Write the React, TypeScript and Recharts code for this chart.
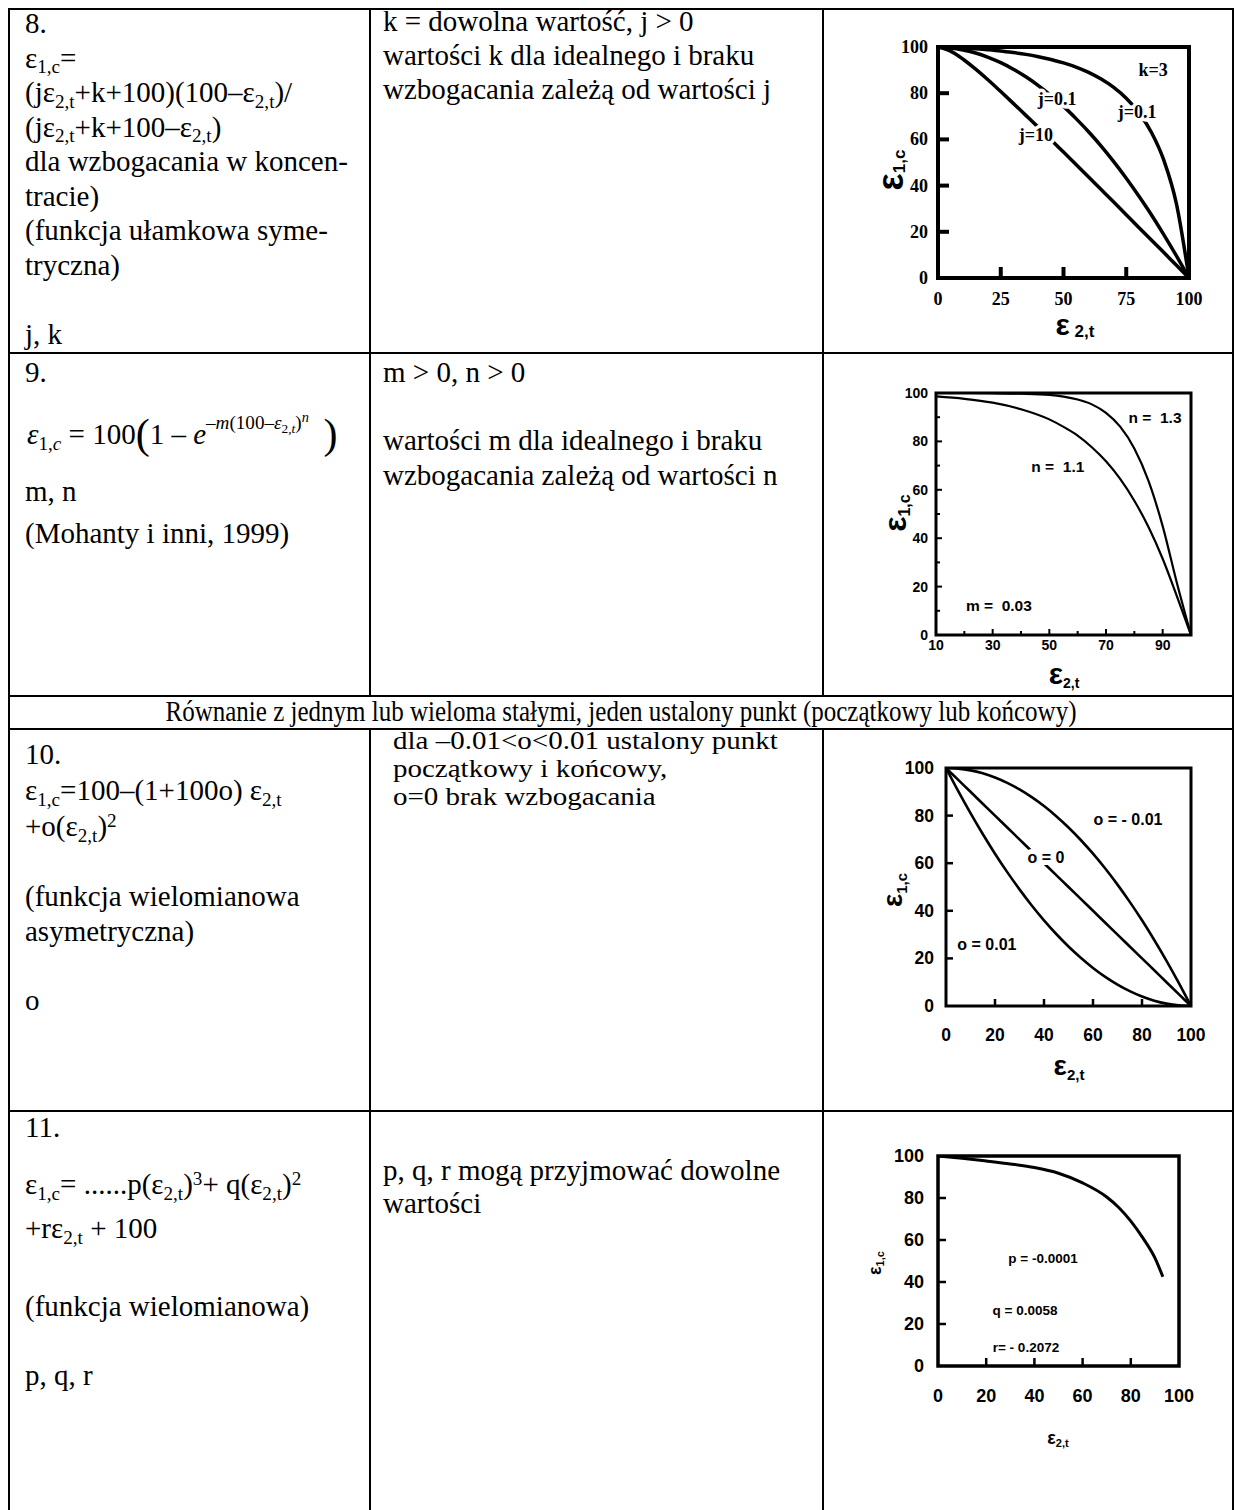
import React from "react";
import {
  ComposedChart,
  Line,
  XAxis,
  YAxis,
  ReferenceArea,
  Scatter,
} from "recharts";

// ---------- data ----------
// Chart 8: fractional symmetric function
const c8X = [0, 5, 10, 15, 20, 25, 30, 35, 40, 45, 50, 55, 60, 65, 70, 75, 80, 85, 90, 95, 100];
const c8TopJ01 = [100, 99.8, 99.6, 99.2, 98.8, 98.3, 97.6, 96.8, 95.8, 94.6, 93.1, 91.3, 89.0, 86.1, 82.5, 77.8, 71.6, 63.1, 50.9, 32.1, 0];
const c8MidJ01 = [100, 99.6, 98.7, 97.4, 95.5, 93.2, 90.4, 87.1, 83.3, 79.0, 74.3, 69.0, 63.3, 57.1, 50.4, 43.2, 35.5, 27.4, 18.7, 9.6, 0];
const c8J10 = [100, 98.2, 94.7, 90.4, 85.7, 80.7, 75.6, 70.4, 65.2, 59.9, 54.5, 49.1, 43.7, 38.3, 32.9, 27.4, 21.9, 16.5, 11.0, 5.5, 0];
const c8XTicks = [0, 25, 50, 75, 100];
const c8YTicks = [0, 20, 40, 60, 80, 100];
const c8Notes = [
  { x: 85.7, y: 90, text: "k=3" },
  { x: 47.5, y: 77.5, text: "j=0.1" },
  { x: 79.3, y: 72, text: "j=0.1" },
  { x: 39, y: 62, text: "j=10" },
];

// Chart 9: Mohanty et al.
const c9X = [10, 20, 30, 40, 50, 55, 60, 65, 70, 75, 80, 85, 90, 95, 100];
const c9N11 = [98.6, 97.6, 96.0, 93.3, 89.1, 86.0, 82.4, 77.6, 71.8, 64.5, 55.5, 44.6, 31.5, 16.1, 0];
const c9N13 = [100, 100, 99.9, 99.7, 99.2, 98.5, 97.3, 95.3, 91.8, 86.1, 77.1, 63.7, 45.0, 21.6, 0];
const c9XTicks = [10, 20, 30, 40, 50, 60, 70, 80, 90, 100];
const c9XLabels = [10, 30, 50, 70, 90];
const c9YTicks = [0, 10, 20, 30, 40, 50, 60, 70, 80, 90, 100];
const c9YLabels = [0, 20, 40, 60, 80, 100];
const c9Notes = [
  { x: 87.3, y: 90, text: "n =  1.3" },
  { x: 53, y: 69.8, text: "n =  1.1" },
  { x: 32.2, y: 12, text: "m =  0.03" },
];

// Chart 10: asymmetric polynomial
const c10X = [0, 5, 10, 15, 20, 25, 30, 35, 40, 45, 50, 55, 60, 65, 70, 75, 80, 85, 90, 95, 100];
const c10Neg = [100, 99.75, 99, 97.75, 96, 93.75, 91, 87.75, 84, 79.75, 75, 69.75, 64, 57.75, 51, 43.75, 36, 27.75, 19, 9.75, 0];
const c10Zero = [100, 95, 90, 85, 80, 75, 70, 65, 60, 55, 50, 45, 40, 35, 30, 25, 20, 15, 10, 5, 0];
const c10Pos = [100, 90.25, 81, 72.25, 64, 56.25, 49, 42.25, 36, 30.25, 25, 20.25, 16, 12.25, 9, 6.25, 4, 2.25, 1, 0.25, 0];
const c10XTicks = [0, 20, 40, 60, 80, 100];
const c10YTicks = [0, 20, 40, 60, 80, 100];
const c10Notes = [
  { x: 74.3, y: 78.2, text: "o = - 0.01" },
  { x: 40.8, y: 62.6, text: "o = 0" },
  { x: 16.7, y: 26, text: "o = 0.01" },
];

// Chart 11: polynomial
const c11X = [0, 10, 20, 30, 40, 50, 60, 70, 75, 80, 85, 90, 93.3];
const c11Y = [100, 98.9, 97.6, 96.2, 94.5, 91.8, 87.2, 80.5, 75.5, 69.0, 61.0, 51.5, 42.5];
const c11XTicks = [0, 20, 40, 60, 80, 100];
const c11YTicks = [0, 20, 40, 60, 80, 100];
const c11Notes = [
  { x: 43.6, y: 51.4, text: "p = -0.0001" },
  { x: 36.1, y: 26.2, text: "q = 0.0058" },
  { x: 36.5, y: 8.6, text: "r= - 0.2072" },
];

// ---------- helpers ----------
const zip = (xs: number[], ys: number[]) => xs.map((x, i) => ({ x, y: ys[i] }));

const SERIF = "'Liberation Serif', 'Times New Roman', serif";
const SANS = "'Liberation Sans', Arial, sans-serif";

type TickOpts = {
  side: "x" | "y";
  margin: number;
  len: number;
  minorLen?: number;
  labels?: number[];
  family: string;
  size: number;
  sw: number;
  domain: [number, number];
};

const makeTick = (o: TickOpts) => (props: any) => {
  const { x, y, payload } = props;
  const v = payload.value;
  const isLabel = o.labels ? o.labels.includes(v) : true;
  const atEnd = v === o.domain[0] || v === o.domain[1];
  const len = isLabel ? o.len : o.minorLen ?? o.len;
  if (o.side === "x") {
    const ay = y - o.margin;
    return (
      <g>
        {!atEnd && <line x1={x} x2={x} y1={ay} y2={ay - len} stroke="#000" strokeWidth={o.sw} />}
        {isLabel && (
          <text x={x} y={y} textAnchor="middle" dominantBaseline="hanging" fontFamily={o.family} fontWeight="bold" fontSize={o.size} fill="#000">
            {v}
          </text>
        )}
      </g>
    );
  }
  const ax = x + o.margin;
  return (
    <g>
      {!atEnd && <line x1={ax} x2={ax + len} y1={y} y2={y} stroke="#000" strokeWidth={o.sw} />}
      {isLabel && (
        <text x={x} y={y} textAnchor="end" dominantBaseline="central" fontFamily={o.family} fontWeight="bold" fontSize={o.size} fill="#000">
          {v}
        </text>
      )}
    </g>
  );
};

const noteShape = (family: string, size: number, halo: number) => (props: any) => {
  const { cx, cy, payload } = props;
  return (
    <text
      x={cx}
      y={cy}
      textAnchor="middle"
      dominantBaseline="central"
      fontFamily={family}
      fontWeight="bold"
      fontSize={size}
      fill="#000"
      stroke="#fff"
      strokeWidth={halo}
      paintOrder="stroke"
      style={{ whiteSpace: "pre" }}
    >
      {payload.text}
    </text>
  );
};

type Series = { data: { x: number; y: number }[]; width: number };

type PlotProps = {
  left: number;
  top: number;
  pw: number;
  ph: number;
  xDomain: [number, number];
  xTicks: number[];
  yTicks: number[];
  xLabels?: number[];
  yLabels?: number[];
  series: Series[];
  notes: { x: number; y: number; text: string }[];
  family: string;
  tickSize: number;
  noteSize: number;
  halo: number;
  frameW: number;
  tickW: number;
  tickLen: number;
  minorLen?: number;
  xMargin: number;
  yMargin: number;
};

const PAD_L = 80;
const PAD_T = 20;
const PAD_R = 40;
const PAD_B = 60;

const Plot = (p: PlotProps) => {
  const W = p.pw + PAD_L + PAD_R;
  const H = p.ph + PAD_T + PAD_B;
  return (
    <div style={{ position: "absolute", left: p.left - PAD_L, top: p.top - PAD_T, width: W, height: H }}>
      <ComposedChart width={W} height={H} margin={{ top: PAD_T, right: PAD_R, left: 0, bottom: 0 }}>
        <XAxis
          type="number"
          dataKey="x"
          domain={p.xDomain}
          ticks={p.xTicks}
          allowDataOverflow
          interval={0}
          height={PAD_B}
          axisLine={false}
          tickLine={false}
          tickSize={0}
          tickMargin={p.xMargin}
          tick={makeTick({ side: "x", margin: p.xMargin, len: p.tickLen, minorLen: p.minorLen, labels: p.xLabels, family: p.family, size: p.tickSize, sw: p.tickW, domain: p.xDomain })}
        />
        <YAxis
          type="number"
          dataKey="y"
          domain={[0, 100]}
          ticks={p.yTicks}
          allowDataOverflow
          interval={0}
          width={PAD_L}
          axisLine={false}
          tickLine={false}
          tickSize={0}
          tickMargin={p.yMargin}
          tick={makeTick({ side: "y", margin: p.yMargin, len: p.tickLen, minorLen: p.minorLen, labels: p.yLabels, family: p.family, size: p.tickSize, sw: p.tickW, domain: [0, 100] })}
        />
        {p.series.map((s, i) => (
          <Line
            key={i}
            data={s.data}
            dataKey="y"
            type="monotone"
            stroke="#000"
            strokeWidth={s.width}
            dot={false}
            activeDot={false}
            isAnimationActive={false}
            strokeLinejoin="round"
          />
        ))}
        <Scatter data={p.notes} dataKey="y" shape={noteShape(p.family, p.noteSize, p.halo)} isAnimationActive={false} />
        <ReferenceArea
          x1={p.xDomain[0]}
          x2={p.xDomain[1]}
          y1={0}
          y2={100}
          fill="none"
          stroke="#000"
          strokeWidth={p.frameW}
          ifOverflow="visible"
        />
      </ComposedChart>
    </div>
  );
};

// ---------- table text helpers ----------
const Sb = ({ children }: { children: React.ReactNode }) => (
  <span style={{ fontSize: "0.66em", position: "relative", top: "0.28em" }}>{children}</span>
);
const Sp = ({ children }: { children: React.ReactNode }) => (
  <span style={{ fontSize: "0.66em", position: "relative", top: "-0.5em" }}>{children}</span>
);

const FS = 29;
// one line of table text, positioned by its baseline
const T = ({
  x,
  base,
  children,
  lh = 32,
  size = FS,
  sy,
}: {
  x: number;
  base: number;
  children: React.ReactNode;
  lh?: number;
  size?: number;
  sy?: number;
}) => {
  const off = lh / 2 + 0.3375 * size;
  return (
    <div
      style={{
        position: "absolute",
        left: x,
        top: base - off,
        fontFamily: SERIF,
        fontSize: size,
        lineHeight: `${lh}px`,
        height: lh,
        whiteSpace: "pre",
        color: "#000",
        transform: sy ? `scaleY(${sy})` : undefined,
        transformOrigin: sy ? `0 ${off}px` : undefined,
      }}
    >
      {children}
    </div>
  );
};

const HL = ({ y, x1 = 9, x2 = 1233 }: { y: number; x1?: number; x2?: number }) => (
  <div style={{ position: "absolute", left: x1 - 1, top: y - 1, width: x2 - x1 + 2, height: 2, background: "#000" }} />
);
const VL = ({ x, y1, y2 }: { x: number; y1: number; y2: number }) => (
  <div style={{ position: "absolute", left: x - 1, top: y1 - 1, width: 2, height: y2 - y1 + 1, background: "#000" }} />
);

const AxisTitle = ({
  x,
  y,
  rotate,
  big,
  small,
  family,
  bigSize,
  smallSize,
  gap = "",
  drop = 0.3,
}: {
  x: number;
  y: number;
  rotate?: boolean;
  big: string;
  small: string;
  family: string;
  bigSize: number;
  smallSize: number;
  gap?: string;
  drop?: number;
}) => (
  <svg style={{ position: "absolute", left: 0, top: 0, overflow: "visible" }} width={1} height={1}>
    <text
      x={x}
      y={y}
      textAnchor="middle"
      fontFamily={family}
      fontWeight="bold"
      fill="#000"
      transform={rotate ? `rotate(-90 ${x} ${y})` : undefined}
      style={{ whiteSpace: "pre" }}
    >
      <tspan fontSize={bigSize}>{big}</tspan>
      <tspan fontSize={smallSize} dy={smallSize * drop}>
        {gap}
        {small}
      </tspan>
    </text>
  </svg>
);

export default function App() {
  return (
    <div style={{ position: "absolute", left: 0, top: 0, width: 1236, height: 1510, background: "#fff", overflow: "hidden" }}>
      {/* table grid */}
      <HL y={9} />
      <HL y={353} />
      <HL y={696} />
      <HL y={729} />
      <HL y={1111} />
      <VL x={9} y1={9} y2={1510} />
      <VL x={1233} y1={9} y2={1510} />
      <VL x={370} y1={9} y2={696} />
      <VL x={823} y1={9} y2={696} />
      <VL x={370} y1={729} y2={1510} />
      <VL x={823} y1={729} y2={1510} />

      {/* row 8 */}
      <T x={25} base={33}>8.</T>
      <T x={25} base={67.5}>ε<Sb>1,c</Sb>=</T>
      <T x={25} base={102}>(jε<Sb>2,t</Sb>+k+100)(100–ε<Sb>2,t</Sb>)/</T>
      <T x={25} base={136.5}>(jε<Sb>2,t</Sb>+k+100–ε<Sb>2,t</Sb>)</T>
      <T x={25} base={171}>dla wzbogacania w koncen-</T>
      <T x={25} base={205.5}>tracie)</T>
      <T x={25} base={240}>(funkcja ułamkowa syme-</T>
      <T x={25} base={274.5}>tryczna)</T>
      <T x={25} base={343.5}>j, k</T>
      <T x={383} base={31}>k = dowolna wartość, j &gt; 0</T>
      <T x={383} base={65}>wartości k dla idealnego i braku</T>
      <T x={383} base={99}>wzbogacania zależą od wartości j</T>

      {/* row 9 */}
      <T x={25} base={382}>9.</T>
      <T x={27} base={440} lh={44}>
        <span style={{ fontStyle: "italic" }}>ε</span>
        <Sb>
          1,<i>c</i>
        </Sb>
        {" = 100"}
        <span style={{ fontSize: "1.45em", position: "relative", top: "0.08em" }}>(</span>
        {"1 – "}
        <i>e</i>
        <span style={{ fontSize: "0.66em", position: "relative", top: "-0.78em" }}>
          –<i>m</i>(100–<i>ε</i>
          <span style={{ fontSize: "0.7em", position: "relative", top: "0.3em" }}>
            2,<i>t</i>
          </span>
          )
          <span style={{ fontSize: "0.75em", position: "relative", top: "-0.5em" }}>
            <i>n</i>
          </span>
        </span>
        {"  "}
        <span style={{ fontSize: "1.45em", position: "relative", top: "0.08em" }}>)</span>
      </T>
      <T x={25} base={501}>m, n</T>
      <T x={25} base={543}>(Mohanty i inni, 1999)</T>
      <T x={383} base={382}>m &gt; 0, n &gt; 0</T>
      <T x={383} base={450}>wartości m dla idealnego i braku</T>
      <T x={383} base={484.5}>wzbogacania zależą od wartości n</T>

      {/* header row */}
      <div
        style={{
          position: "absolute",
          left: 9,
          width: 1224,
          top: 721 - 14 - 0.3375 * 25,
          height: 28,
          textAlign: "center",
          fontFamily: SERIF,
          fontSize: 25,
          lineHeight: "28px",
          whiteSpace: "pre",
          transform: "scaleY(1.15)",
          transformOrigin: `50% ${14 + 0.3375 * 25}px`,
        }}
      >
        Równanie z jednym lub wieloma stałymi, jeden ustalony punkt (początkowy lub końcowy)
      </div>

      {/* row 10 */}
      <T x={25} base={764}>10.</T>
      <T x={25} base={800}>
        ε<Sb>1,c</Sb>=100–(1+100o) ε<Sb>2,t</Sb>
      </T>
      <T x={25} base={836}>
        +o(ε<Sb>2,t</Sb>)<Sp>2</Sp>
      </T>
      <T x={25} base={906}>(funkcja wielomianowa</T>
      <T x={25} base={941}>asymetryczna)</T>
      <T x={25} base={1010}>o</T>
      <T x={393} base={749} lh={24} sy={0.85}>dla –0.01&lt;o&lt;0.01 ustalony punkt</T>
      <T x={393} base={777} lh={24} sy={0.85}>początkowy i końcowy,</T>
      <T x={393} base={805} lh={24} sy={0.85}>o=0 brak wzbogacania</T>

      {/* row 11 */}
      <T x={25} base={1137}>11.</T>
      <T x={25} base={1194}>
        ε<Sb>1,c</Sb>= ......p(ε<Sb>2,t</Sb>)<Sp>3</Sp>+ q(ε<Sb>2,t</Sb>)<Sp>2</Sp>
      </T>
      <T x={25} base={1238}>
        +rε<Sb>2,t</Sb> + 100
      </T>
      <T x={25} base={1316}>(funkcja wielomianowa)</T>
      <T x={25} base={1385}>p, q, r</T>
      <T x={383} base={1180}>p, q, r mogą przyjmować dowolne</T>
      <T x={383} base={1213}>wartości</T>

      {/* chart 8 */}
      <Plot
        left={938}
        top={47}
        pw={251}
        ph={231}
        xDomain={[0, 100]}
        xTicks={c8XTicks}
        yTicks={c8YTicks}
        series={[
          { data: zip(c8X, c8TopJ01), width: 3.5 },
          { data: zip(c8X, c8MidJ01), width: 3.5 },
          { data: zip(c8X, c8J10), width: 3.5 },
        ]}
        notes={c8Notes}
        family={SERIF}
        tickSize={18}
        noteSize={18}
        halo={7}
        frameW={4}
        tickW={4}
        tickLen={11}
        xMargin={14}
        yMargin={10}
      />
      <AxisTitle x={903} y={170} rotate big="ε" small="1,c" family={SANS} bigSize={36} smallSize={17} drop={0.1} />
      <AxisTitle x={1075} y={335} big="ε" small="2,t" gap=" " family={SANS} bigSize={30} smallSize={17} drop={0.1} />

      {/* chart 9 */}
      <Plot
        left={936}
        top={393}
        pw={255}
        ph={242}
        xDomain={[10, 100]}
        xTicks={c9XTicks}
        yTicks={c9YTicks}
        xLabels={c9XLabels}
        yLabels={c9YLabels}
        series={[
          { data: zip(c9X, c9N11), width: 2.2 },
          { data: zip(c9X, c9N13), width: 2.2 },
        ]}
        notes={c9Notes}
        family={SANS}
        tickSize={14}
        noteSize={15.5}
        halo={0}
        frameW={3}
        tickW={2}
        tickLen={6}
        minorLen={4}
        xMargin={5}
        yMargin={8}
      />
      <AxisTitle x={906} y={513} rotate big="ε" small="1,c" family={SANS} bigSize={32} smallSize={16} drop={0.25} />
      <AxisTitle x={1064} y={684} big="ε" small="2,t" family={SANS} bigSize={30} smallSize={14} drop={0.3} />

      {/* chart 10 */}
      <Plot
        left={946}
        top={768}
        pw={245}
        ph={238}
        xDomain={[0, 100]}
        xTicks={c10XTicks}
        yTicks={c10YTicks}
        series={[
          { data: zip(c10X, c10Neg), width: 2.6 },
          { data: zip(c10X, c10Zero), width: 2.6 },
          { data: zip(c10X, c10Pos), width: 2.6 },
        ]}
        notes={c10Notes}
        family={SANS}
        tickSize={17.5}
        noteSize={16}
        halo={10}
        frameW={3}
        tickW={2.5}
        tickLen={7}
        xMargin={22}
        yMargin={12}
      />
      <AxisTitle x={902} y={890} rotate big="ε" small="1,c" family={SANS} bigSize={28} smallSize={15} drop={0.3} />
      <AxisTitle x={1069} y={1075} big="ε" small="2,t" family={SANS} bigSize={28} smallSize={15} drop={0.35} />

      {/* chart 11 */}
      <Plot
        left={938}
        top={1156}
        pw={241}
        ph={210}
        xDomain={[0, 100]}
        xTicks={c11XTicks}
        yTicks={c11YTicks}
        series={[{ data: zip(c11X, c11Y), width: 3 }]}
        notes={c11Notes}
        family={SANS}
        tickSize={18}
        noteSize={13.5}
        halo={0}
        frameW={3.5}
        tickW={2.5}
        tickLen={8}
        xMargin={23}
        yMargin={14}
      />
      <AxisTitle x={881} y={1263} rotate big="ε" small="1,c" family={SANS} bigSize={18} smallSize={11} drop={0.3} />
      <AxisTitle x={1058} y={1444} big="ε" small="2,t" family={SANS} bigSize={18} smallSize={11} drop={0.3} />
    </div>
  );
}
